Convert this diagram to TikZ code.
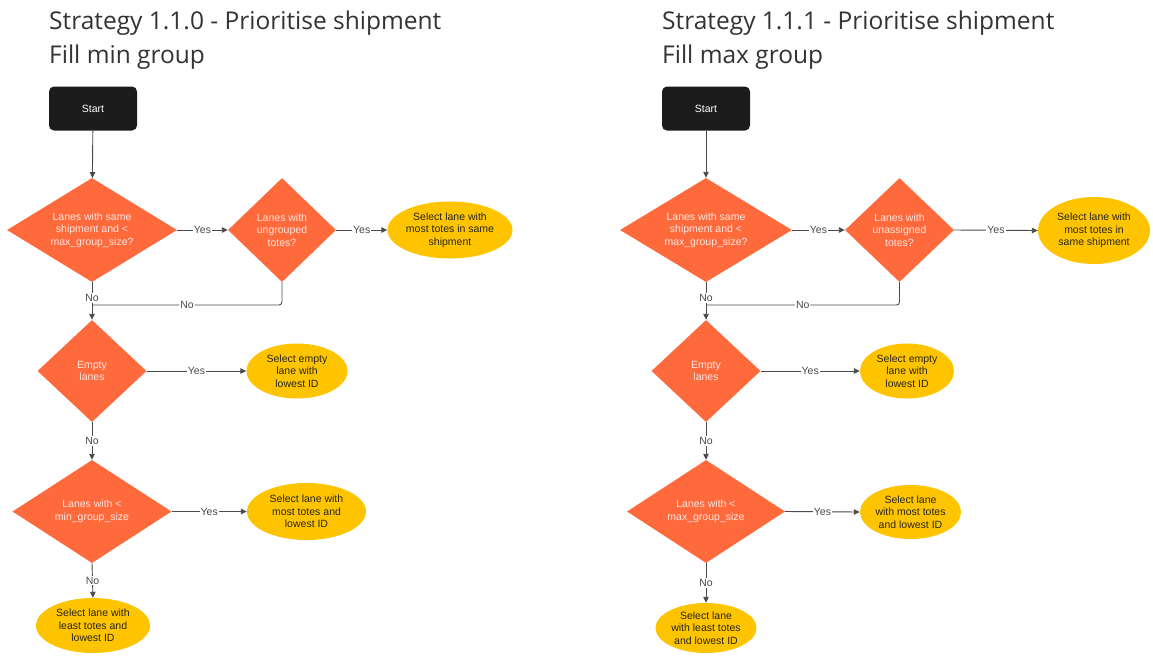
\documentclass[tikz,border=0pt]{standalone}
\usepackage{fontspec}
\setmainfont{Liberation Sans}
\newfontfamily\titlefont{Open Sans}
\usetikzlibrary{shapes.geometric,arrows.meta}
\definecolor{dorange}{HTML}{FF6A3D}
\definecolor{eyellow}{HTML}{FFC400}
\definecolor{sblack}{HTML}{1C1C1C}
\definecolor{lgray}{HTML}{4A4A4A}
\definecolor{dtext}{HTML}{FFE6DE}
\definecolor{etext}{HTML}{262626}
\definecolor{ttext}{HTML}{333333}
\tikzset{
  decision/.style={diamond, fill=dorange, draw=none, inner sep=0pt, align=center,
    text=dtext, font=\fontsize{10.5}{12.5}\selectfont},
  outcome/.style={ellipse, fill=eyellow, draw=none, inner sep=0pt, align=center,
    text=etext, font=\fontsize{10.5}{12.5}\selectfont},
  startbox/.style={rectangle, rounded corners=5pt, fill=sblack, text=white,
    minimum width=88pt, minimum height=44pt, inner sep=0pt,
    font=\fontsize{10.5}{12}\selectfont},
  conn/.style={draw=lgray, line width=0.9pt, -{Triangle[length=6pt,width=5.5pt]}},
  connplain/.style={draw=lgray, line width=0.9pt, rounded corners=3pt},
  lbl/.style={fill=white, inner sep=1pt, text=lgray, font=\fontsize{10.5}{12}\selectfont},
  titletext/.style={anchor=base west, inner sep=0pt, text=ttext,
    font=\titlefont\fontsize{24.5}{30}\selectfont}
}
\begin{document}
\begin{tikzpicture}[x=1pt,y=-1pt]
\useasboundingbox[fill=white] (0,0) rectangle (1153,657);

% ---------- Left diagram ----------
\node[titletext] (lt1) at (49,29) {Strategy 1.1.0 - Prioritise shipment};
\node[titletext] (lt2) at (49,63) {Fill min group};
\node[startbox] (ls) at (93,108.5) {Start};
\node[decision, aspect=1.6, minimum width=170pt, minimum height=104pt] (ld1) at (92,230)
  {Lanes with same\\shipment and <\\max\_group\_size?};
\node[decision, minimum width=108pt, minimum height=104pt] (ld2) at (282,230)
  {Lanes with\\ungrouped\\totes?};
\node[outcome, minimum width=125pt, minimum height=57pt] (le1) at (450,230)
  {Select lane with\\most totes in same\\shipment};
\node[decision, minimum width=109pt, minimum height=102pt] (ld3) at (92,371)
  {Empty\\lanes};
\node[outcome, minimum width=101pt, minimum height=55pt] (le2) at (297,371)
  {Select empty\\lane with\\lowest ID};
\node[decision, aspect=1.55, minimum width=159pt, minimum height=103pt] (ld4) at (92,511.5)
  {Lanes with <\\min\_group\_size};
\node[outcome, minimum width=119pt, minimum height=57pt] (le3) at (306.5,511.5)
  {Select lane with\\most totes and\\lowest ID};
\node[outcome, minimum width=114pt, minimum height=55pt] (le4) at (93,625.5)
  {Select lane with\\least totes and\\lowest ID};
\coordinate (lj) at (92,305);

\draw[conn] (ls) -- (ld1);
\draw[conn] (ld1.east) -- node[lbl]{Yes} (ld2.west);
\draw[conn] (ld2.east) -- node[lbl]{Yes} (le1.west);
\draw[conn] (ld1.south) -- node[lbl,pos=0.42]{No} (ld3.north);
\draw[connplain] (ld2.south) |- node[lbl,pos=0.75]{No} (lj);
\draw[conn] (ld3.east) -- node[lbl]{Yes} (le2.west);
\draw[conn] (ld3.south) -- node[lbl]{No} (ld4.north);
\draw[conn] (ld4.east) -- node[lbl]{Yes} (le3.west);
\draw[conn] (ld4.south) -- node[lbl]{No} (le4.north);

% ---------- Right diagram ----------
\node[titletext] (rt1) at (662,29) {Strategy 1.1.1 - Prioritise shipment};
\node[titletext] (rt2) at (662,63) {Fill max group};
\node[startbox] (rs) at (706,108.5) {Start};
\node[decision, aspect=1.6, minimum width=172pt, minimum height=104pt] (rd1) at (706,230)
  {Lanes with same\\shipment and <\\max\_group\_size?};
\node[decision, minimum width=109pt, minimum height=104pt] (rd2) at (899.5,230)
  {Lanes with\\unassigned\\totes?};
\node[outcome, minimum width=112pt, minimum height=67pt] (re1) at (1094,230.5)
  {Select lane with\\most totes in\\same shipment};
\node[decision, minimum width=109pt, minimum height=102pt] (rd3) at (706,371)
  {Empty\\lanes};
\node[outcome, minimum width=94pt, minimum height=55pt] (re2) at (907,371)
  {Select empty\\lane with\\lowest ID};
\node[decision, aspect=1.55, minimum width=158pt, minimum height=103pt] (rd4) at (706,511.5)
  {Lanes with <\\max\_group\_size};
\node[outcome, minimum width=101pt, minimum height=54pt] (re3) at (910.5,512)
  {Select lane\\with most totes\\and lowest ID};
\node[outcome, minimum width=101pt, minimum height=50pt] (re4) at (706,628)
  {Select lane\\with least totes\\and lowest ID};
\coordinate (rj) at (706,305);

\draw[conn] (rs) -- (rd1);
\draw[conn] (rd1.east) -- node[lbl]{Yes} (rd2.west);
\draw[conn] (rd2.east) -- node[lbl]{Yes} (re1.west);
\draw[conn] (rd1.south) -- node[lbl,pos=0.42]{No} (rd3.north);
\draw[connplain] (rd2.south) |- node[lbl,pos=0.75]{No} (rj);
\draw[conn] (rd3.east) -- node[lbl]{Yes} (re2.west);
\draw[conn] (rd3.south) -- node[lbl]{No} (rd4.north);
\draw[conn] (rd4.east) -- node[lbl]{Yes} (re3.west);
\draw[conn] (rd4.south) -- node[lbl]{No} (re4.north);
\end{tikzpicture}
\end{document}
